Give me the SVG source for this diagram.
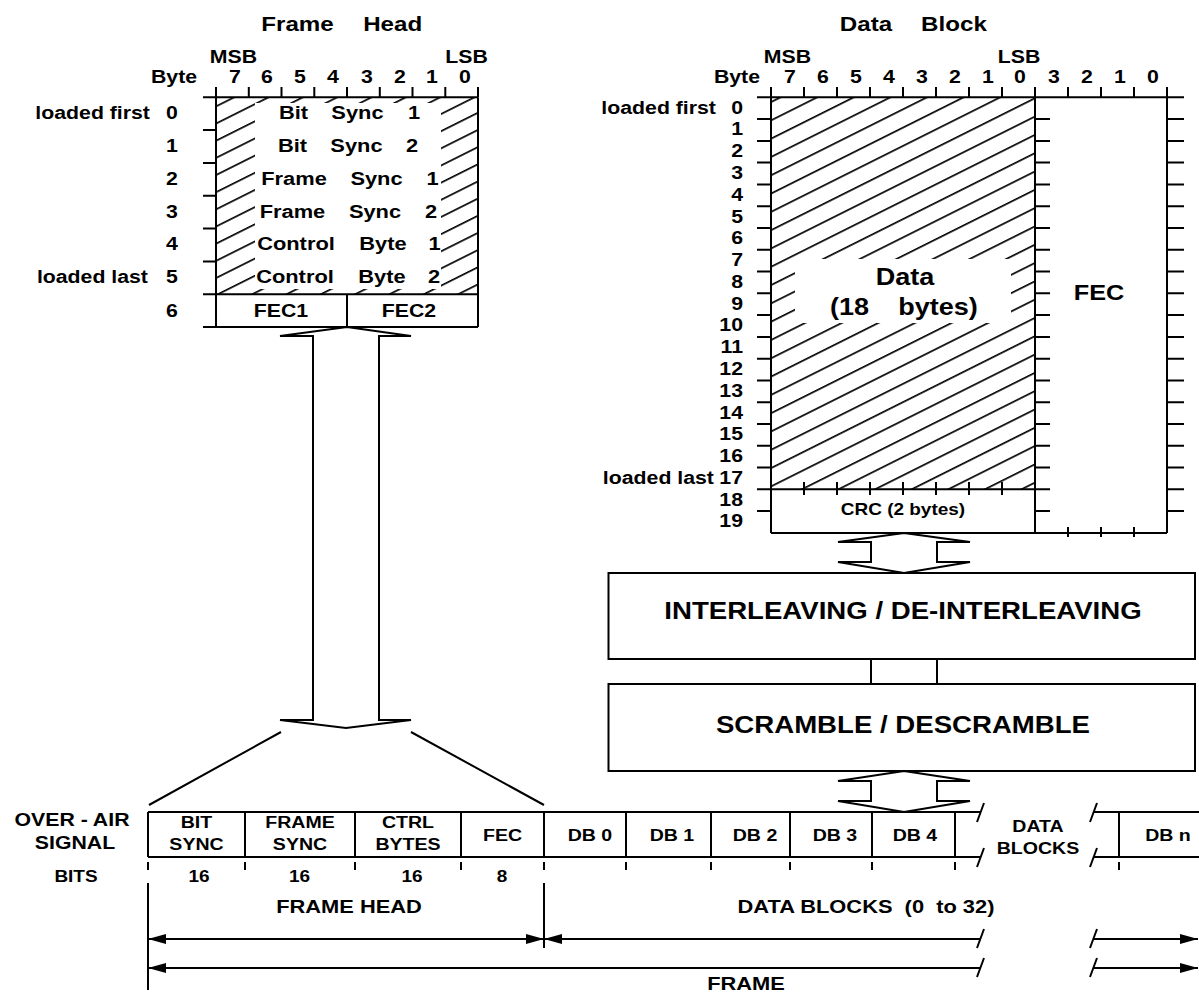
<svg xmlns="http://www.w3.org/2000/svg" width="1199" height="993" viewBox="0 0 1199 993">
<style>
text{font-family:"Liberation Sans",Arial,Helvetica,sans-serif;font-weight:bold;fill:#000}
.w{transform-box:fill-box;transform-origin:50% 50%;transform:scaleX(1.15)}
.we{transform-box:fill-box;transform-origin:100% 50%;transform:scaleX(1.15)}
.c{text-anchor:middle}
.e{text-anchor:end}
.s165{font-size:16.5px}
.s17{font-size:17px}
.s18{font-size:18.5px}
.s19{font-size:19px}
.s21{font-size:21px}
.s22{font-size:22px}
.s235{font-size:23.5px}
.s24{font-size:24px}
.ln{stroke:#000;stroke-width:2;fill:none}
.box{stroke:#000;stroke-width:2;fill:#fff}
.pre{white-space:pre}
</style>
<defs>
<pattern id="hatchDB" patternUnits="userSpaceOnUse" width="40" height="16.37" patternTransform="rotate(-26.565)">
<line x1="-1" y1="10.4" x2="41" y2="10.4" stroke="#000" stroke-width="1.6"/>
</pattern>
<pattern id="hatchFH" patternUnits="userSpaceOnUse" width="40" height="15.35" patternTransform="rotate(-26.565)">
<line x1="-1" y1="7.5" x2="41" y2="7.5" stroke="#000" stroke-width="1.6"/>
</pattern>
<marker id="arr" viewBox="0 0 18 10" refX="18" refY="5" markerWidth="18" markerHeight="10" markerUnits="userSpaceOnUse" orient="auto-start-reverse">
<path d="M0,0 L18,5 L0,10 z" fill="#000"/>
</marker>
</defs>
<rect width="1199" height="993" fill="#fff"/>

<g id="frame-head">
<text class="w c s21" x="297.5" y="31">Frame</text>
<text class="w c s21" x="392.7" y="31">Head</text>
<text class="w c s18" x="233.5" y="63">MSB</text>
<text class="w c s18" x="466.5" y="63">LSB</text>
<text class="w c s18" x="174" y="83">Byte</text>
<text class="w c s18" x="235" y="83">7</text>
<text class="w c s18" x="267" y="83">6</text>
<text class="w c s18" x="300" y="83">5</text>
<text class="w c s18" x="333" y="83">4</text>
<text class="w c s18" x="367" y="83">3</text>
<text class="w c s18" x="400" y="83">2</text>
<text class="w c s18" x="432" y="83">1</text>
<text class="w c s18" x="465" y="83">0</text>
<rect x="216" y="97.3" width="262" height="197" fill="url(#hatchFH)"/>
<rect x="255" y="103" width="186" height="186" fill="#fff"/>
<path class="ln" d="M203,97.3H478M216,97.3V327M478,97.3V327M203,294.3H478M203,327H478M347,294.3V327M203,130.1h13M203,163h13M203,195.8h13M203,228.6h13M203,261.5h13M216,87v10M248.8,87v10M281.5,87v10M314.3,87v10M347,87v10M379.8,87v10M412.5,87v10M445.3,87v10M478,87v10"/>
<text class="we e s18" x="150" y="119.2">loaded first</text>
<text class="we e s18" x="148" y="283.4">loaded last</text>
<text class="w c s18" x="172" y="119.2">0</text>
<text class="w c s18" x="172" y="152">1</text>
<text class="w c s18" x="172" y="184.9">2</text>
<text class="w c s18" x="172" y="217.7">3</text>
<text class="w c s18" x="172" y="250.5">4</text>
<text class="w c s18" x="172" y="283.4">5</text>
<text class="w c s18" x="172" y="317">6</text>
<text class="w c s19" x="293.5" y="119.2">Bit</text>
<text class="w c s19" x="357.5" y="119.2">Sync</text>
<text class="w c s19" x="414" y="119.2">1</text>
<text class="w c s19" x="292.5" y="152">Bit</text>
<text class="w c s19" x="356.5" y="152">Sync</text>
<text class="w c s19" x="412" y="152">2</text>
<text class="w c s19" x="294" y="184.9">Frame</text>
<text class="w c s19" x="376.5" y="184.9">Sync</text>
<text class="w c s19" x="432.5" y="184.9">1</text>
<text class="w c s19" x="292.5" y="217.7">Frame</text>
<text class="w c s19" x="375" y="217.7">Sync</text>
<text class="w c s19" x="431" y="217.7">2</text>
<text class="w c s19" x="296" y="250.5">Control</text>
<text class="w c s19" x="383" y="250.5">Byte</text>
<text class="w c s19" x="434.5" y="250.5">1</text>
<text class="w c s19" x="295" y="283.4">Control</text>
<text class="w c s19" x="382" y="283.4">Byte</text>
<text class="w c s19" x="434" y="283.4">2</text>
<text class="w c s18" x="281" y="317">FEC1</text>
<text class="w c s18" x="409" y="317">FEC2</text>
</g>

<g id="data-block">
<text class="w c s21" x="866" y="31">Data</text>
<text class="w c s21" x="954" y="31">Block</text>
<text class="w c s18" x="787.5" y="63">MSB</text>
<text class="w c s18" x="1019" y="63">LSB</text>
<text class="w c s18" x="737" y="83">Byte</text>
<text class="w c s18" x="790" y="83">7</text>
<text class="w c s18" x="823" y="83">6</text>
<text class="w c s18" x="856" y="83">5</text>
<text class="w c s18" x="889" y="83">4</text>
<text class="w c s18" x="922" y="83">3</text>
<text class="w c s18" x="955" y="83">2</text>
<text class="w c s18" x="988" y="83">1</text>
<text class="w c s18" x="1020" y="83">0</text>
<text class="w c s18" x="1054" y="83">3</text>
<text class="w c s18" x="1087" y="83">2</text>
<text class="w c s18" x="1120" y="83">1</text>
<text class="w c s18" x="1153" y="83">0</text>
<rect x="771" y="97.3" width="264" height="392" fill="url(#hatchDB)"/>
<rect x="795" y="259" width="216" height="64" fill="#fff"/>
<path class="ln" d="M757,97.3H1184M771,97.3V533M1035,97.3V533M1167,97.3V533M771,533H1167M757,489.3H1050"/>
<path class="ln" d="M771,87v10M804,87v10M837,87v10M870,87v10M903,87v10M936,87v10M969,87v10M1002,87v10M1035,87v10M1068,87v10M1101,87v10M1134,87v10M1167,87v10"/>
<path class="ln" d="M757,119.1h14M757,140.9h14M757,162.6h14M757,184.4h14M757,206.2h14M757,228h14M757,249.8h14M757,271.5h14M757,293.3h14M757,315.1h14M757,336.9h14M757,358.7h14M757,380.4h14M757,402.2h14M757,424h14M757,445.8h14M757,467.6h14M757,511.1h14"/>
<path class="ln" d="M1035,119.1h15M1035,140.9h15M1035,162.6h15M1035,184.4h15M1035,206.2h15M1035,228h15M1035,249.8h15M1035,271.5h15M1035,293.3h15M1035,315.1h15M1035,336.9h15M1035,358.7h15M1035,380.4h15M1035,402.2h15M1035,424h15M1035,445.8h15M1035,467.6h15M1035,511.1h15"/>
<path class="ln" d="M1167,119.1h17M1167,140.9h17M1167,162.6h17M1167,184.4h17M1167,206.2h17M1167,228h17M1167,249.8h17M1167,271.5h17M1167,293.3h17M1167,315.1h17M1167,336.9h17M1167,358.7h17M1167,380.4h17M1167,402.2h17M1167,424h17M1167,445.8h17M1167,467.6h17M1167,489.3h17M1167,511.1h17"/>
<path class="ln" d="M804,482v13M837,482v13M870,482v13M903,482v13M936,482v13M969,482v13M1002,482v13M1068,527v10M1101,527v10M1134,527v10"/>
<text class="we e s18" x="716" y="113.7">loaded first</text>
<text class="we e s18" x="714" y="484">loaded last</text>
<text class="we e s18" x="743" y="113.7">0</text>
<text class="we e s18" x="743" y="135.5">1</text>
<text class="we e s18" x="743" y="157.3">2</text>
<text class="we e s18" x="743" y="179">3</text>
<text class="we e s18" x="743" y="200.8">4</text>
<text class="we e s18" x="743" y="222.6">5</text>
<text class="we e s18" x="743" y="244.4">6</text>
<text class="we e s18" x="743" y="266.2">7</text>
<text class="we e s18" x="743" y="287.9">8</text>
<text class="we e s18" x="743" y="309.7">9</text>
<text class="we e s18" x="743" y="331.5">10</text>
<text class="we e s18" x="743" y="353.3">11</text>
<text class="we e s18" x="743" y="375.1">12</text>
<text class="we e s18" x="743" y="396.8">13</text>
<text class="we e s18" x="743" y="418.6">14</text>
<text class="we e s18" x="743" y="440.4">15</text>
<text class="we e s18" x="743" y="462.2">16</text>
<text class="we e s18" x="743" y="484">17</text>
<text class="we e s18" x="743" y="505.7">18</text>
<text class="we e s18" x="743" y="527.5">19</text>
<text class="w c s235" x="905" y="285">Data</text>
<text class="w c s235" x="849.5" y="315">(18</text>
<text class="w c s235" x="938" y="315">bytes)</text>
<text class="w c s22" x="1099" y="300">FEC</text>
<text class="w c s165" x="903" y="515">CRC (2 bytes)</text>
</g>

<g id="interleaving">
<rect class="box" x="608.5" y="573" width="586.5" height="86"/>
<text class="w c s24" x="903" y="619">INTERLEAVING / DE-INTERLEAVING</text>
</g>

<g id="scramble">
<rect class="box" x="608.5" y="684" width="586.5" height="87"/>
<text class="w c s24" x="903" y="733">SCRAMBLE / DESCRAMBLE</text>
</g>

<g id="signal">
<text class="w c s18" x="72" y="826">OVER - AIR</text>
<text class="w c s18" x="75" y="849">SIGNAL</text>
<text class="w c s165" x="76" y="882">BITS</text>
<path class="ln" d="M148,812H980.7M1093.7,812H1199M148,857H980.7M1093.7,857H1199M148,812V857M245,812V857M355,812V857M461,812V857M544,812V857M626,812V857M711,812V857M790,812V857M872,812V857M955,812V857M1119,812V857"/>
<path class="ln" d="M977,822L984,803M1090,822L1097,803M977,867L984,848M1090,867L1097,848"/>
<path class="ln" d="M148,862v8M245,862v8M355,862v8M461,862v8M544,862v8M626,862v8M711,862v8M790,862v8M872,862v8M955,862v8M1119,862v8"/>
<text class="w c s17" x="196.5" y="828">BIT</text>
<text class="w c s17" x="196.5" y="850">SYNC</text>
<text class="w c s17" x="300" y="828">FRAME</text>
<text class="w c s17" x="300" y="850">SYNC</text>
<text class="w c s17" x="408" y="828">CTRL</text>
<text class="w c s17" x="408" y="850">BYTES</text>
<text class="w c s17" x="502.5" y="841">FEC</text>
<text class="w c s17" x="590" y="841">DB 0</text>
<text class="w c s17" x="672" y="841">DB 1</text>
<text class="w c s17" x="755" y="841">DB 2</text>
<text class="w c s17" x="835" y="841">DB 3</text>
<text class="w c s17" x="915" y="841">DB 4</text>
<text class="w c s17" x="1038" y="832">DATA</text>
<text class="w c s17" x="1038" y="854">BLOCKS</text>
<text class="w c s17" x="1168" y="841">DB n</text>
<text class="w c s165" x="199" y="882">16</text>
<text class="w c s165" x="299.5" y="882">16</text>
<text class="w c s165" x="412" y="882">16</text>
<text class="w c s165" x="502" y="882">8</text>
</g>

<g id="dimensions">
<path class="ln" d="M148,883V990M544,883V948"/>
<text class="w c s19" x="349" y="913">FRAME HEAD</text>
<text class="w c s19 pre" x="866" y="913">DATA BLOCKS  (0  to 32)</text>
<text class="w c s19" x="746" y="990">FRAME</text>
<path class="ln" d="M148,939H544" marker-start="url(#arr)" marker-end="url(#arr)"/>
<path class="ln" d="M544,939H980.7" marker-start="url(#arr)"/>
<path class="ln" d="M1093.7,939H1198" marker-end="url(#arr)"/>
<path class="ln" d="M148,968H980.7" marker-start="url(#arr)"/>
<path class="ln" d="M1093.7,968H1198" marker-end="url(#arr)"/>
<path class="ln" d="M977,948L984,929M1090,948L1097,929M977,977L984,958M1090,977L1097,958"/>
</g>

<g id="connectors">
<polygon class="box" points="347,327 411,336 379,336 379,720 411,720 346,728 280,720 313,720 313,336 280,336"/>
<path class="ln" d="M149,805L281,732M411,732L544,805"/>
<polygon class="box" points="904,533 970,542 937,542 937,562 970,562 904,573 838,562 871,562 871,542 838,542"/>
<path class="ln" d="M871,659V684M937,659V684"/>
<polygon class="box" points="904,771 970,781 937,781 937,801 970,801 904,812 838,801 871,801 871,781 838,781"/>
</g>
</svg>
